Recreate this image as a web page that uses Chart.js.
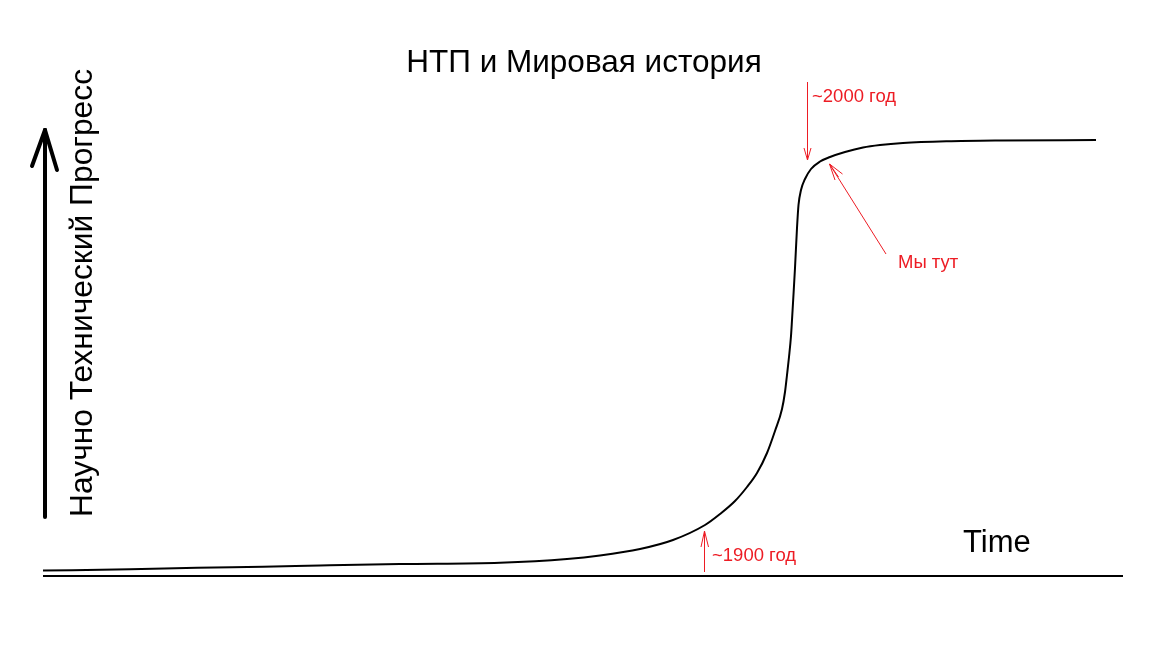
<!DOCTYPE html>
<html><head><meta charset="utf-8">
<script src="https://cdn.jsdelivr.net/npm/chart.js@4/dist/chart.umd.min.js"></script>
<style>html,body{margin:0;padding:0;background:#fff;overflow:hidden}canvas{display:block}</style>
</head><body>
<canvas id="c" width="1152" height="648"></canvas>
<script>
// Time (horizontal) and technical progress (vertical) values
const timeValues = [43, 130, 197, 263, 320, 400, 500, 567, 600, 640, 673, 705, 720, 735, 747, 757, 767, 775, 782, 785, 787, 789, 791, 792, 793, 795, 797, 798.5, 801, 805, 811, 820, 830, 845, 863, 880, 903, 947, 1000, 1096];
const progressValues = [5.5, 6.7, 8.3, 9.3, 10.5, 12, 13.3, 17, 20.5, 27, 36, 51, 62, 75, 89, 103, 123, 145, 167, 184, 201, 219, 240, 256, 273, 308, 348, 371, 386, 397, 407, 414.5, 419, 424, 428.5, 431, 433, 434.7, 435.5, 436];
const baselineTime = [43, 1123];
const baselineProgress = [0, 0];

const titleText = 'НТП и Мировая история';
const yAxisLabel = 'Научно Технический Прогресс';
const xAxisLabel = 'Time';
const annotationLabels = ['~2000 год', '~1900 год', 'Мы тут'];
const annotationTime = [807.5, 704.5, 829.5];      // where each red arrow points
const annotationProgress = [416, 45, 412];

const RED = '#ed1c24';
const FONT = '"Liberation Sans", Arial, sans-serif';

const overlay = {
  id: 'overlay',
  afterDatasetsDraw(chart) {
    const { ctx, scales: { x, y } } = chart;
    const P = (t, p) => [x.getPixelForValue(t), y.getPixelForValue(p)];
    const seg = (a, b) => { ctx.beginPath(); ctx.moveTo(a[0], a[1]); ctx.lineTo(b[0], b[1]); ctx.stroke(); };
    ctx.save();

    // vertical black arrow (progress axis)
    ctx.strokeStyle = '#000'; ctx.lineWidth = 4; ctx.lineCap = 'round';
    seg(P(45, 59), P(45, 446));
    seg(P(45, 446), P(32, 410));
    seg(P(45, 446), P(57, 406));

    // texts
    ctx.fillStyle = '#000';
    ctx.textBaseline = 'alphabetic';
    ctx.font = '31.5px ' + FONT;
    ctx.textAlign = 'center';
    ctx.fillText(titleText, 584, 72);
    ctx.textAlign = 'left';
    ctx.font = '31px ' + FONT;
    ctx.fillText(xAxisLabel, 963, 552);
    ctx.save();
    ctx.font = '31.8px ' + FONT;
    ctx.translate(92, 517);
    ctx.rotate(-Math.PI / 2);
    ctx.fillText(yAxisLabel, 0, 0);
    ctx.restore();

    // red annotations
    ctx.strokeStyle = RED; ctx.fillStyle = RED; ctx.lineWidth = 1; ctx.lineCap = 'butt';
    ctx.font = '18.5px ' + FONT;
    // ~2000
    let tip = P(annotationTime[0], annotationProgress[0]);
    seg([tip[0], tip[1] - 78], tip);
    seg([tip[0] - 3.5, tip[1] - 12], tip);
    seg([tip[0] + 3.5, tip[1] - 12], tip);
    ctx.fillText(annotationLabels[0], 812, 102);
    // ~1900
    tip = P(annotationTime[1], annotationProgress[1]);
    seg([tip[0], tip[1] + 41], tip);
    seg([tip[0] - 3.5, tip[1] + 16], tip);
    seg([tip[0] + 4, tip[1] + 16], tip);
    ctx.fillText(annotationLabels[1], 712, 561);
    // Мы тут
    tip = P(annotationTime[2], annotationProgress[2]);
    seg([tip[0] + 56.5, tip[1] + 90], tip);
    seg([tip[0] + 5.5, tip[1] + 16], tip);
    seg([tip[0] + 9, tip[1] + 13], tip);
    seg([tip[0] + 13, tip[1] + 10], tip);
    ctx.fillText(annotationLabels[2], 898, 268);

    ctx.restore();
  }
};

new Chart(document.getElementById('c'), {
  type: 'line',
  data: {
    datasets: [
      {
        data: timeValues.map((t, i) => ({ x: t, y: progressValues[i] })),
        borderColor: '#000', borderWidth: 2, pointRadius: 0,
        cubicInterpolationMode: 'monotone', fill: false
      },
      {
        data: baselineTime.map((t, i) => ({ x: t, y: baselineProgress[i] })),
        borderColor: '#000', borderWidth: 2, pointRadius: 0, fill: false
      }
    ]
  },
  options: {
    responsive: false,
    animation: false,
    layout: { padding: 0 },
    plugins: { legend: { display: false }, tooltip: { enabled: false }, title: { display: false } },
    scales: {
      x: { type: 'linear', min: 0, max: 1152, display: false },
      y: { type: 'linear', min: -72, max: 576, display: false }
    }
  },
  plugins: [overlay]
});
</script>
</body></html>
